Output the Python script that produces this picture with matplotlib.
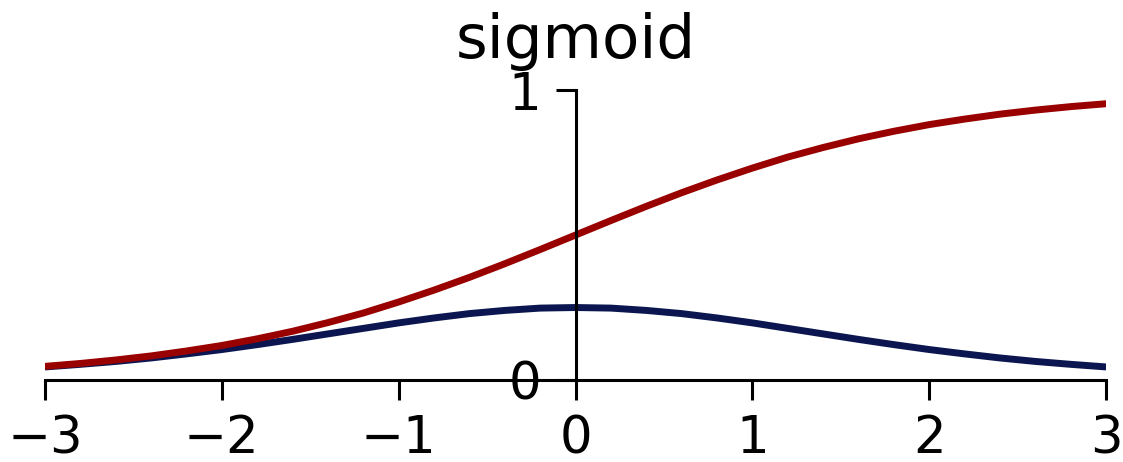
import matplotlib
matplotlib.use("Agg")
import matplotlib.pyplot as plt

x_vals = [-3.0, -2.8, -2.6, -2.4, -2.2, -2.0, -1.8, -1.6, -1.4, -1.2, -1.0,
          -0.8, -0.6, -0.4, -0.2, 0.0, 0.2, 0.4, 0.6, 0.8, 1.0,
          1.2, 1.4, 1.6, 1.8, 2.0, 2.2, 2.4, 2.6, 2.8, 3.0]
sigmoid_vals = [0.047, 0.057, 0.069, 0.083, 0.100, 0.119, 0.142, 0.168, 0.198, 0.231, 0.269,
                0.310, 0.354, 0.401, 0.450, 0.500, 0.550, 0.599, 0.646, 0.690, 0.731,
                0.769, 0.802, 0.832, 0.858, 0.881, 0.900, 0.917, 0.931, 0.943, 0.953]
deriv_vals = [0.045, 0.054, 0.064, 0.076, 0.090, 0.105, 0.122, 0.140, 0.159, 0.178, 0.197,
              0.214, 0.229, 0.240, 0.248, 0.250, 0.248, 0.240, 0.229, 0.214, 0.197,
              0.178, 0.159, 0.140, 0.122, 0.105, 0.090, 0.076, 0.064, 0.054, 0.045]
x_ticks = [-3, -2, -1, 0, 1, 2, 3]
y_ticks = [0, 1]

fig = plt.figure(figsize=(11.23, 4.62), dpi=100)
ax = fig.add_axes([0.040, 0.1775, 0.945, 0.6275])

ax.plot(x_vals, deriv_vals, color="#0b1650", lw=5, solid_capstyle="butt")
ax.plot(x_vals, sigmoid_vals, color="#990000", lw=5, solid_capstyle="butt")

ax.set_xlim(-3, 3)
ax.set_ylim(0, 1)
ax.spines["left"].set_position(("data", 0))
ax.spines["bottom"].set_position(("data", 0))
ax.spines["top"].set_visible(False)
ax.spines["right"].set_visible(False)
for s in ("left", "bottom"):
    ax.spines[s].set_linewidth(2.2)

ax.set_xticks(x_ticks)
ax.set_yticks(y_ticks)
ax.tick_params(length=14.5, width=2.2, labelsize=37)
ax.tick_params(axis="x", pad=10)
ax.tick_params(axis="y", pad=10)
ax.set_title("sigmoid", fontsize=44, pad=0, y=1.11)

fig.savefig("out.png", dpi=100)
